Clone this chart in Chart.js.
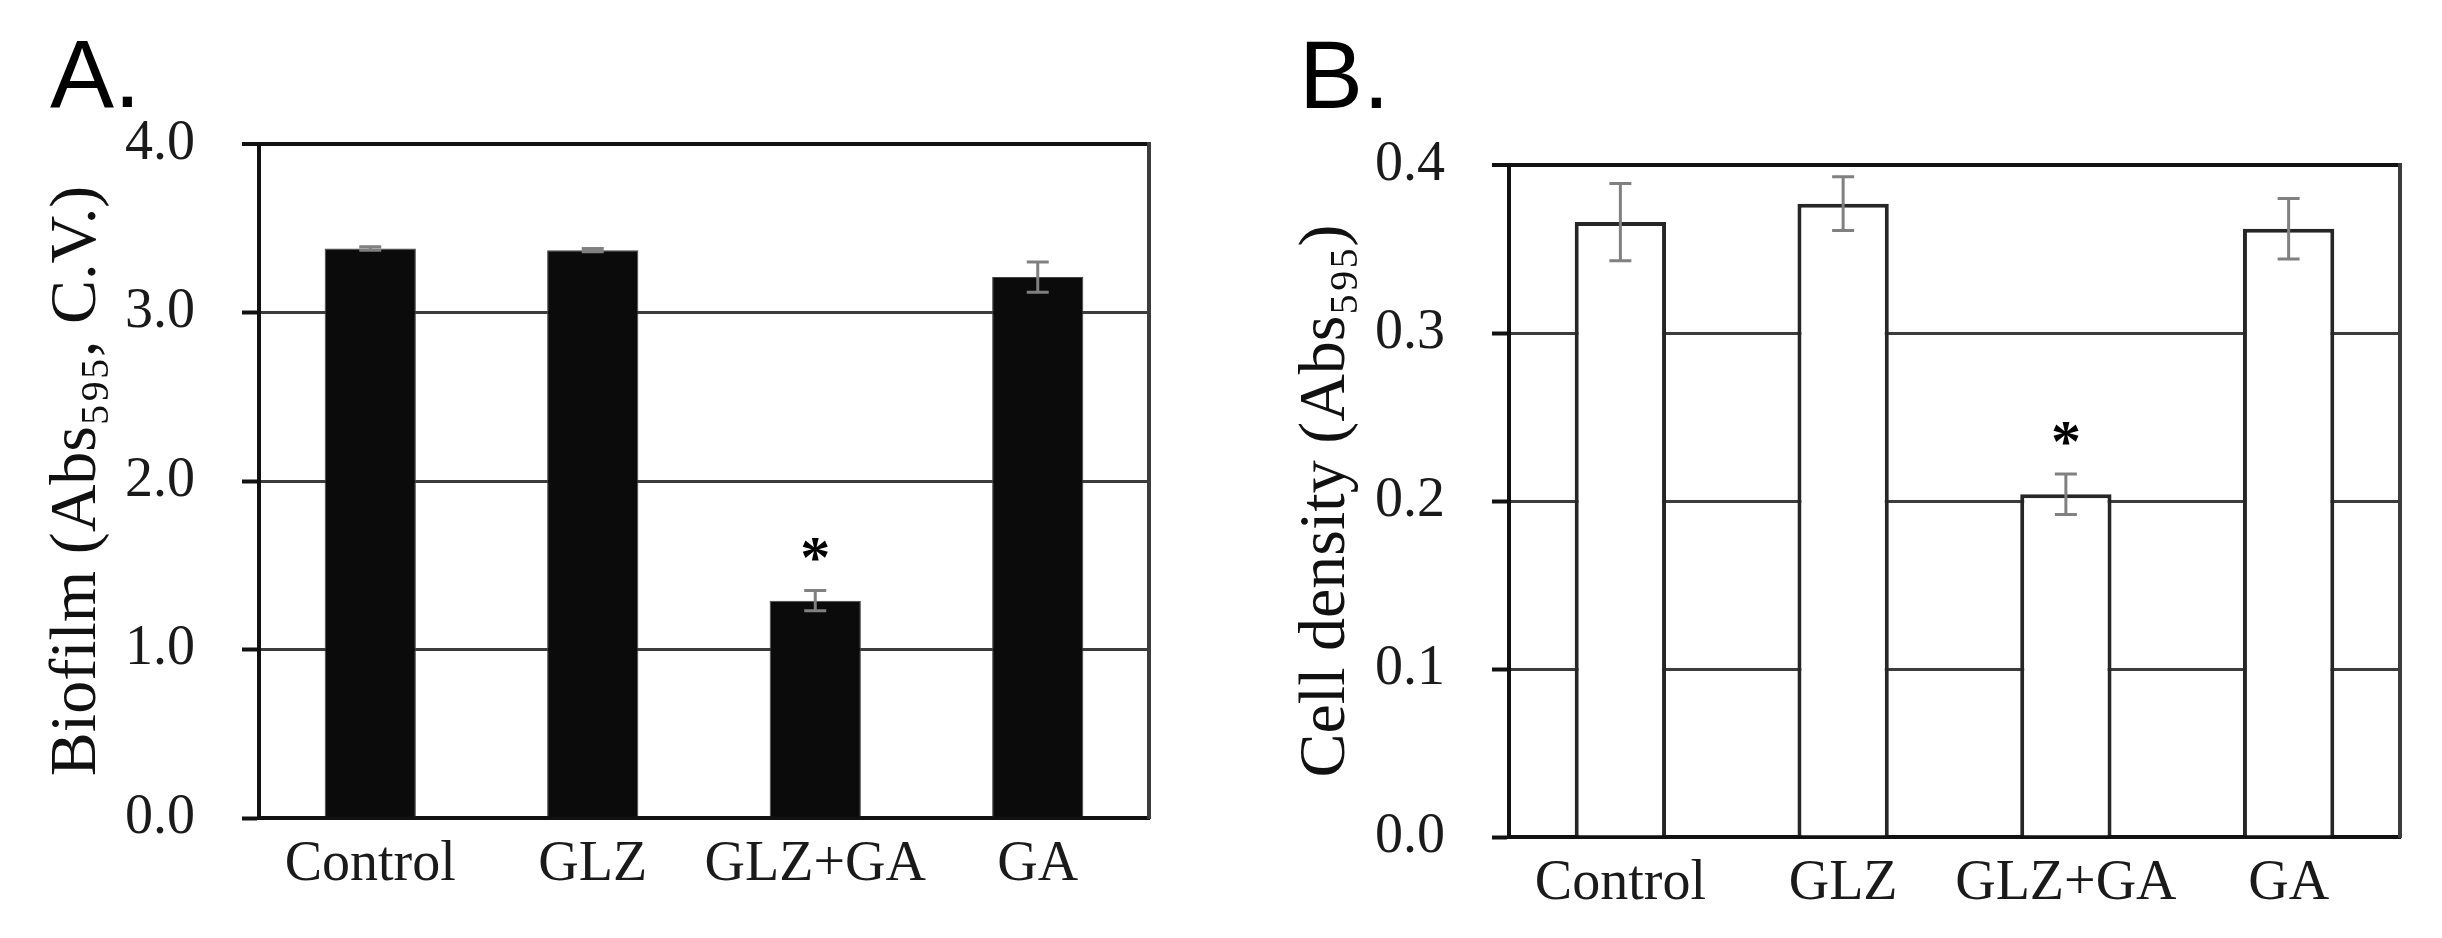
<!DOCTYPE html>
<html>
<head>
<meta charset="utf-8">
<script src="https://cdn.jsdelivr.net/npm/chart.js@4.4.0/dist/chart.umd.min.js"></script>
<style>
  html, body { margin: 0; padding: 0; background: #fff; }
  #wrap { position: relative; width: 2442px; height: 938px; overflow: hidden; background: #fff; }
  .panel { position: absolute; top: 0; width: 1221px; height: 938px; }
  .panel canvas { display: block; }
  .tag { position: absolute; font-family: "Liberation Sans", Arial, sans-serif; font-size: 96px; line-height: 96px; color: #000; }
</style>
</head>
<body>
<div id="wrap">
  <div class="panel" style="left:0"><canvas id="chartA" width="1221" height="938"></canvas></div>
  <div class="panel" style="left:1221px"><canvas id="chartB" width="1221" height="938"></canvas></div>
  <div class="tag" style="left:50px; top:26px">A.</div>
  <div class="tag" style="left:1299px; top:27px">B.</div>
</div>
<script>
//*Data
const categories = ['Control', 'GLZ', 'GLZ+GA', 'GA'];
const biofilmMeans = [3.38, 3.37, 1.29, 3.21];
const biofilmErrors = [0.01, 0.01, 0.06, 0.09];
const cellMeans = [0.366, 0.377, 0.204, 0.362];
const cellErrors = [0.023, 0.016, 0.012, 0.018];
const biofilmTicks = [0, 1, 2, 3, 4];
const cellTicks = [0, 0.1, 0.2, 0.3, 0.4];
const significant = ['GLZ+GA'];

const serif = '"Liberation Serif", "Times New Roman", serif';

//*Error bars and the asterisk, drawn after the bars
const errorBars = {
  id: 'errorBars',
  afterDatasetsDraw(chart) {
    const ctx = chart.ctx;
    const y = chart.scales.y;
    chart.data.datasets.forEach((ds, d) => {
      chart.getDatasetMeta(d).data.forEach((bar, i) => {
        const m = ds.data[i];
        const e = ds.errors[i];
        const top = y.getPixelForValue(m + e);
        const bot = y.getPixelForValue(m - e);
        ctx.save();
        ctx.strokeStyle = '#808080';
        ctx.lineWidth = 3;
        ctx.beginPath();
        ctx.moveTo(bar.x, top); ctx.lineTo(bar.x, bot);
        ctx.moveTo(bar.x - 11, top); ctx.lineTo(bar.x + 11, top);
        ctx.moveTo(bar.x - 11, bot); ctx.lineTo(bar.x + 11, bot);
        ctx.stroke();
        //? star above significant bars
        if (significant.includes(chart.data.labels[i])) {
          ctx.fillStyle = '#000';
          ctx.font = 'bold 60px ' + serif;
          ctx.textAlign = 'center';
          ctx.textBaseline = 'alphabetic';
          ctx.fillText('*', bar.x, top - 42 + 0.48 * 60);
        }
        ctx.restore();
      });
    });
  }
};

//*Builds one panel
const makeChart = (id, o) => {
  const last = o.ticks.length - 1;
  return new Chart(document.getElementById(id), {
    type: 'bar',
    data: {
      labels: categories,
      datasets: [{
        data: o.means,
        errors: o.errors,
        backgroundColor: o.fill,
        borderColor: o.edge,
        borderWidth: o.edgeWidth,
        barPercentage: 0.41,
        categoryPercentage: 1,
      }],
    },
    options: {
      responsive: false,
      animation: false,
      layout: { padding: { left: 0, top: o.top, right: o.right, bottom: 0 } },
      plugins: { legend: { display: false }, tooltip: { enabled: false } },
      scales: {
        x: {
          grid: { display: false },
          border: { display: true, color: '#111', width: 4 },
          ticks: {
            color: '#1a1a1a',
            font: { family: serif, size: 56 },
            padding: 6,
            autoSkip: false,
            maxRotation: 0,
            minRotation: 0,
          },
          afterFit: (s) => { s.height = o.xHeight; },
        },
        y: {
          min: 0,
          max: o.ticks[last],
          afterBuildTicks: (s) => { s.ticks = o.ticks.map(v => ({ value: v })); },
          ticks: {
            color: '#1a1a1a',
            font: { family: serif, size: 56 },
            padding: 47,
            callback: (v) => Number(v).toFixed(1),
          },
          grid: {
            color: (c) => c.index === last ? '#111' : '#3c3c3c',
            lineWidth: (c) => c.index === last ? 4 : 3,
            tickLength: 17,
            tickColor: '#111',
            tickWidth: 4,
          },
          border: { color: '#111', width: 4 },
          title: {
            display: true,
            text: o.title,
            color: '#111',
            font: { family: serif, size: 66 },
            padding: { top: o.titlePad, bottom: 0 },
          },
          afterFit: (s) => { s.width = o.yWidth; },
        },
        y2: {
          position: 'right',
          grid: { display: false },
          ticks: { display: false },
          border: { color: '#3c3c3c', width: 4 },
          afterFit: (s) => { s.width = 0; },
        },
      },
    },
    plugins: [errorBars],
  });
};

makeChart('chartA', {
  means: biofilmMeans, errors: biofilmErrors, ticks: biofilmTicks,
  title: 'Biofilm (Abs\u2085\u2089\u2085, C.V.)',
  fill: '#0b0b0b', edge: '#444', edgeWidth: 1,
  top: 144, right: 72, xHeight: 120, yWidth: 259, titlePad: 38,
});

makeChart('chartB', {
  means: cellMeans, errors: cellErrors, ticks: cellTicks,
  title: 'Cell density (Abs\u2085\u2089\u2085)',
  fill: '#fff', edge: '#262626', edgeWidth: 4,
  top: 165, right: 42, xHeight: 101, yWidth: 288, titlePad: 66,
});
</script>
</body>
</html>
